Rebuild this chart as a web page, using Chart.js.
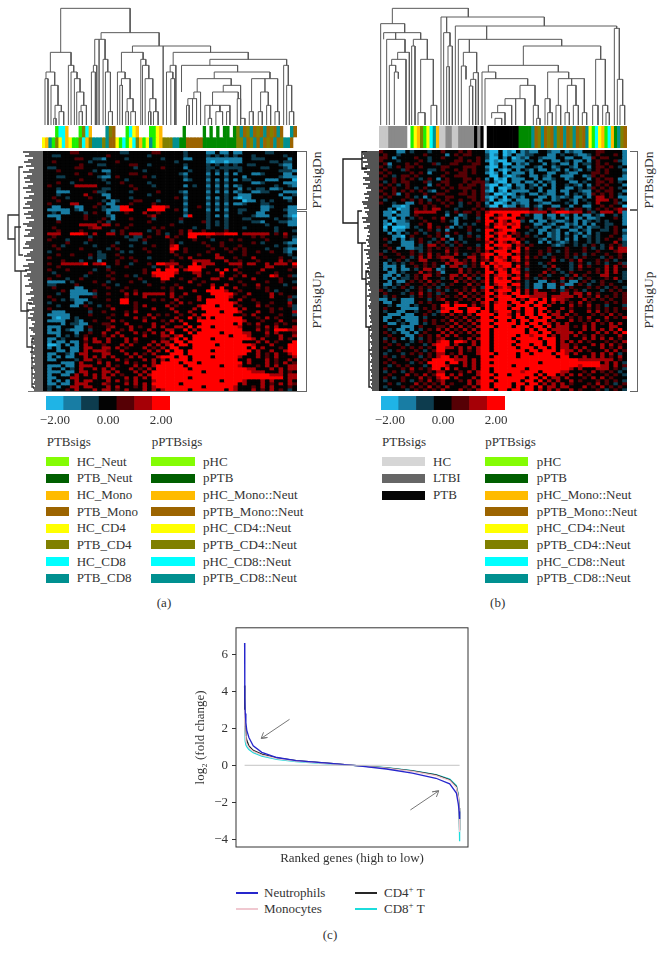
<!DOCTYPE html>
<html>
<head>
<meta charset="utf-8">
<title>PTB signatures</title>
<script src="https://cdn.jsdelivr.net/npm/chart.js@4/dist/chart.umd.min.js"></script>
<style>
	html, body { margin: 0; padding: 0; background: #fff; }
	#page { position: relative; width: 664px; height: 961px; overflow: hidden; font-family: "Liberation Serif", serif; font-size: 13px; color: #333; }
	#page canvas { position: absolute; }
	.t { position: absolute; white-space: nowrap; transform: translateY(-50%); }
	.c { transform: translate(-50%, -50%); }
	.r { transform: translate(-50%, -50%) rotate(-90deg); font-size: 13.5px; }
	.b { position: absolute; border: 1px solid #666; border-left: 0; }
	.s { position: absolute; height: 9px; }
	sup { font-size: 9px; line-height: 0; }
</style>
</head>
<body>
<div id="page"></div>
<script>
// heatmap levels: c b a . 1 2 3 = -2 ... +2
const colorScale = ["#1fb4e6", "#187da4", "#0d3c4e", "#030303", "#560005", "#a60006", "#ff0000"];
const levelCodes = "cba.123";
const scaleTicks = ["\u22122.00", "", "", "0.00", "", "", "2.00"];

const heatA = [
	"......11...... ...aa.....11.. ...a....bb.bb. bb.....aa.....",
	"..aa.......... 1........a.... ...a....a.a.a. a...a......a..",
	".......11..aab ....a.......a. ...bb...bbbbbb bb..aaa.....b.",
	"..1.......a... ..1........... .a......bcbbcb bb......aa.aa.",
	"........1...aa .....11..a.... ...a....a.a.a. a..aa.....abb.",
	".aa....11..... ......a.....1. ...b....aa.aaa aa....aa...ab.",
	"...1.......a.b b.......a..... ....a...a.a.a. .a........aaab",
	".......1..1... a....11....... ..ab....b.b.b. b...bba....bb.",
	"...aa.......ab b.1.....1.a... ...a....a...a. ..b.......abbb",
	"........1....a ....a......... ...ba...b.b.b. b.aa...bbb...c",
	"...1..a....... a..1.....a.... ........a.a.a. ....bba....bbb",
	".1.....22222.. .....1....a... ...b.a..b.b.b. ba.......a..ab",
	"...a.........a a.....1....... ........a.a.a. .b.a.aa.bba...",
	"...bbb.....1aa .....a.....1.. ..ab....b.b.b. ba..bbaa...bbb",
	"...a.....2...b b........a.... ...a....a...a. .bbb......b..a",
	"..1..a....1... b....a........ .1.b....b.b.a. bcbb.......bb.",
	"...1.........a .ba...11...a.. ...a....a.a.a. ..cbb.a.a...a.",
	".1....22....1. bb...1....1... ...b....b.b.b. bba...aa......",
	"..bb...bb..1.a .bb33.....3332 ...a..1.a.a.a. ......bba...bb",
	".bbbbb.ab....a bbb333...3333. .1.b....b.b.b. .aa...bb...abb",
	"..a.bb...a.1.. b...1...2..1.. ...a....a...a. .a...bb.....bb",
	".bbb.....1.... ab.......12... ...b3...a.b.b. ....abbb...abc",
	"...b.....1...1 .b...1....a... ..1.....a...a. ..aa.....a..ab",
	"...1........1. a........1.... ..a....1a.a.a. ....aab...aabb",
	"........2222.2 2.1..1........ 1.......a.a.a. .......a....bb",
	"..1.......122. ....1.....1.1. .....a..a...a. ..a......a....",
	"...1....1..... .a.1.....a.1.. ..1.2..1....1. .........a...a",
	".222..3332.2.. 22.1.222...1.a ..1.3333332233 3.222222.1.2..",
	"..1.......a... ....a.aa.1...2 .1..33..1..... ....1.1....1.a",
	".1...a....1... .....aa.1..... 1....1...a...1 .1.....1.....b",
	".....1...a.... ..a.....a..... 1.a....1...1.. ....1.a....abb",
	"..1.a......a.. .1...a....1... 23......1..1.. .1.......a..a.",
	"...1....1..... a.1.....1..... 33.1.....1..1. 1.1....a...abb",
	".a..........a. ...a.a...1.... 2..1....1....1 ..1..1..1..ab.",
	"...1..1...1.aa ..1........... .1....1...2... ..1.........a.",
	".1........a.aa ...1.1...a.... ..1.2.....22.. 1...2.....1..a",
	"....1...a...b. ..1...1....... 1....2222...2. .1...1....2.1.",
	".1..222223.223 ..1..a...1.332 22...3.222...2 22.22..2.222.3",
	"...1.......... a...1.....a..1 3.1.3332...... .1.....22....1",
	".1...1.....a.. 1.......1..3.3 33.2333...2.3. 2.....2.....1.",
	"..a.......1... .1......1.3333 32...22.1..3.. .1...1...1....",
	"...1.....a.... 1...1.a...2333 3.....2....2.. 1.2.....32..1a",
	".1...a..1..... .1.....1....33 ..1..1...22..2 ....2.....1...",
	".bbbb.a....1.. a....1..a...1. ....2..1...... .1.....1..1..a",
	".aa....1.....1 ..a......1.... .1....1..2..2. ..1..2.....a..",
	"..1....bb..... 1...1.......1. 1.2......3.3.. 2....1.1.....1",
	"....1.bbbb.1.. ...1..1....... 1....2..33332. .1.....1.a....",
	"...a..bbbbba.. 1...2.2.22222. 2..2.....33333 1..2....2.1...",
	".1....bb...1.. ....1...2..... 2.1...2...3332 ..1.....2...1a",
	"..1.a.abbb.... 1..33.....1.1. .2....2.33333. .2..1.......a.",
	".a.....bb.a... ...33.1....... 1.2.1...333333 2....1..1...2.",
	"...a..bb.1..a. 1.....1.2....2 .1....2333.333 .1...2.1....1a",
	".1........1... .2....1...2... 2....2.3333333 3.2.....1.1..a",
	"..bbb.....a..1 ....1.2....... .2..2...333.33 32...2..1....2",
	".bbbbb....1... .1..2....2.1.1 ..1..2.3333333 ..1.2.....1..a",
	"..bcbb.a...... 1.....2.1.2... .2..3.2.3.3333 33...1.2.1....",
	".bbbb..ab..1.. .2.1....2...1. 2.2...33333333 332...1...2..1",
	"....b.aabb...1 1...2.....2..1 ...3...3333333 .3.1.2...1.1..",
	".bbb...bb.1... 12...2.1..2.2. .22.3.333.3333 32...1.2.2...2",
	".b.b.abbb.a... 2..1.2...2...2 2..3.2.3333333 33...2.1.33322",
	".bbb...b..1..2 ..2...2.1.2.2. 3...3.33333.33 3322...2.2...1",
	"...b.a.a.1...1 .2.2....2...22 .23..33333333. 3332...1..2..2",
	".bb.a....2.2.. 2...2.2.....1. 23.3.3333.3333 33332.2...2.1.",
	".b.bb.bb.1.22. 2...2.1...2.22 .33.3333333333 33...2.2.1...3",
	".ccb.b.b.2...1 ...2.2...2.2.2 3.33.33333.333 33332...2...33",
	".b.b..bb.22..2 2.2.1...2.1.2. 33...333333333 333.3.2...1.33",
	"...bb.bb.2.222 1..2.....2.2.3 .33.33333.3333 3333.2..2..233",
	".bb..ab.22...2 2...2.2.1.2... 333.3333333333 333..2.1.2..23",
	".b.b.bb..2.2.2 .2...2.2...233 3.33.3333.3333 32...2.1.2...2",
	".bb....a.22.1. ..2.1...2.2.2. 3333.333333333 3..2...2.1..2.",
	"....bbb.2...2. 2...2.1...2.33 33.333.3333333 33.2...2.1.2.1",
	".bbb.bb.222... 2.1...2.2.2333 333.3333333.33 32...1.2.2..22",
	".b..b.a.2..2.2 .2...2.1.2.333 3333.333333333 33322...2.2.22",
	".bbb.bb.22...2 2.2...2.2.3333 3333333.333333 3333222...2.1.",
	".b..bb.2.2.2.2 .2.1...2.23333 33333333333333 33333333222.22",
	".bb...22...2.2 2...2.2.2.3333 3333.333333333 33333333333.22",
	".b.b.b.2.22... 2.2.1.2...2333 33333333333.33 332...2.2...2.",
	".bb.bb.222...2 1...2.2.2.3333 33.33333333333 3.2...2.1.2.21",
	".a.b..22.22... 2.2...1.2.2333 3333333.333333 2...1.2.2...1.",
	".a...1.2...2.2 2.1.2...2.2.23 3333.3333333.3 2...2.1.2.1.a."
];

const heatB = [
	"1...bb.a...a.. 1...1.1...bcc. cbc.babb..abb. babb...11....b",
	".1..a.....1... .b.1.11...acb. cb.bbaa...bb.a ..abba.1...1.b",
	"11.b....1..a.. 1...1...1.acc. b.cbab..abbb.. bb..bb1.11...b",
	"1...a....1.a.. ...11.1.1.bcbc c.bbb.a.b..bb. a.bb.b.1...1ab",
	".1b...1.1...1a ..11...11..cb. cc.bab...b.a.b b.b.aa.1.1...b",
	"1.a.1.11.1.... 11...111..bcc. b.bbb..ab..ba. .ab..b.11.1.a.",
	".1...a1....aa. 1..1.1.1..ac.b cb.b.ab.bb.ab. b.ab.a.1.1...b",
	"1.1....1.1.b.. .1..11.1..bcb. c.bbb.b...bb.. abb...11.1...a",
	".1.a.11.1..... 1..111.....cc. bcba..bb.ab..b bb..ba1.1....b",
	"1..1.1.1.a.1.b .1...11.1.b.cb c.bbb..b.bba.. ba...b.1.11.bb",
	".a.1.11...1a.. 11...1.111a.bc c.bb.bb.b.ab.. .bb.a..11.1.a.",
	"1.1.a.1....b.1 .1..1.11.1bcc. bc.bb.ab.b.b.. a.ab.b.1.1...b",
	".1.1..1.a.1... 1.1.111..1ac.c cb.ab.a.b..b.. bb.a.a1.1.1.a.",
	"1..1.1.1.1.ab. .1...1.1.1bc.b c.bbbb..b.bb.b b..abb.1.11..b",
	".1.1b.1...1..1 1...11.1.1a.cc bcb.a.bb.abb.. b.a.ab1.1.1.a.",
	"1.1...1.a.b.1. .11...11.1bcb. c.bab...bb.bab a.bb.b.22.1.bb",
	".a...1.1.1.a.1 .1..1..1.1ac.b cb.bbb.bb..ba. .ab.a..222.1.b",
	"1..a..bb.1.1.. 1.1.a.1.1.b.cc b.babb..abb... a.b..a.2...1a.",
	"...bbcb...1.1. .1..a...1.acc. cbb.ab.ab..bb. .b..bb..1.1..c",
	"..b.cbb.1.1.22 ...a...1.1.111 111111.1a.11.1 a.11.a.1.1.121",
	".bbc.bb.22222. .a.1.11.1.2333 3333332222.233 3222.1a.222.2b",
	".bb.bbb.1..... .b..ba..1.33.2 3.33.a.bb.bb.b a.b.bb.ab..a.b",
	"..bc.b.a.1..1. 2..b.a..a.3.23 333.1..bb.ab.. b.bb.bba...1.b",
	".b.cbba...1... 1.ab....1.33.3 2.33a.b.bb.abb a.b.ba.a.a...b",
	".bc.bbb..1.2.. ...b.a.a..3.23 2323...bb.ab.. bab.b.b..aa..b",
	".c.cccb.a..2.1 .1b.a.1...2.33 3.33.1.a.bb.ab b.ab.baa.a.1..",
	".b.cbb...a.1.a .b....1.a.33.2 333...a.bb.ab. .bb.ab..aa.1.b",
	"..b.b.a.1.a..1 .1.1..a...3.23 3.21.a..b.bab. b.ab.b.a...1.a",
	"...bbc.1...1.1 .b..a.1.a.33.3 23.1.1.a..bab. a.b.ba.a..1..b",
	".1.b.b.a.1..a. 2.b.a...1.3.23 333.1...ab.ab. b.b..a.a.1..1b",
	"..a..bbb.1.a.1 .a.1.a....23.3 2.23.a..b.b.ab a.a..a.a...2.a",
	".1...bbb.a.22. 1.a.1...a.3.33 33.21.1....aba ..a.a.1.a.1.1a",
	"..1.b.bbaa.1.1 .1.1..1.1.33.2 32.3.2....1... 1...1.a.a.2.22",
	".a.1...1.a.1.. .2.1....1.2.33 3.33.1..1.1.a. 1...1..1...122",
	"1...1..1.1.2.1 .1.2.a.1.233.3 33.2.1..1.a... 1.1.a.1..1..1.",
	".1...1.a.2.2.1 222...22.13.32 3.33.2.1.a.1.. 1.a.1...a.1.1.",
	"..a.1.a..22... 1.22.1.2.12.33 2.23.1.....2.a .1.2...1.1.a..",
	".b.a.a.1..1.1. .2.221.1.3.323 33.1.2..a.1... .a.1.a.1.a..1a",
	".bbb.b..1.1.1. b.22.a.1.23.32 33.3.1...a.2.. .a.2.1...2.2.1",
	".b.b.bb.a.22.b a...2.1...3.23 2.32.a....1.a. .a.1...1.2.2..",
	"..bb.a...2.1.1 b...2.1.1.33.3 3.33.1...2.1.a .1...1.1.2.2.a",
	".bb.b.a.1.22.1 ..22.2.1.13.23 32.2.2..1.a... a.2.1...22...a",
	".b.b.aa.1.2... a.2.1.2.a.3.32 3.33.1.a.1...2 .1.a.1...1.2.a",
	"..b.bb.1.1.2.1 ...2.1.1.13.33 33.1.a..bb.1.a .bb.1.a.1...a.",
	".bb.a.1...1.1. a.1...2.1.3.23 3.33.a.bb.bb.1 bb.1.a..1.1...",
	".a.a.1.a.1.1.a .1...1.1.a33.2 32.2.a.bb.bb.b .1...1.1.a.1.a",
	"1.a...a..1.a.1 .a.1.1.2.13.23 33.3.2.2...1.a 1.1.a...a.1.1.",
	".1...a.1.2.1.a 1...2.1.1.33.3 2.33.2.222...2 2.22.2.1...1.1",
	".a.1...a.1.1.1 .1.1.2.1.13.23 33.3332222.222 22.2.1.2.1.1.1",
	"bb.a.bbb...a.1 2...1.1.2.33.3 333.2.33.3.322 1...2.1.1.1..1",
	".bb..bbb.1.1.. .2.2...1.23.23 3.33.33.33.2.2 .1.2.1...1.1.1",
	"..a.bbb.a...1. 33.333.2.13.33 32.333.33.2... .2.1.2.1.a...a",
	".1...bbbb.1.1. 2333..333.3.33 3.33.33.33...2 .1...1.1.1.1.1",
	".a..bb..a..1.a 33.33.33.33.23 33.2.33.3.2.2. .2...2.2.1.1..",
	"..bbb.bb..1.a. 1.2.1.2.3333.3 32.3.33.33.22. 2.1...1.1.2.1.",
	".bb..bbbb.a... .1.1.2.1.33.33 33.33.33.33.22 .1.1.2...2.1.2",
	".b..a.bbb.1.1. 1.2.1.2.2333.3 3.3.33.333.2.. .2.1.1.2.1....",
	"..bb.a.bb.a.1. .1.2.1.2.33.33 333.3.33.32.2. 2...1.2.1.2.2.",
	".1...bbb.1...1 1.2.2.1.2333.3 33.333.33.3.22 2.1.2.2...22..",
	"..a.bb.b.a.1.2 .2.1.2.2.33.33 33333.3.33.222 2...2.2.2.2.3.",
	".1.a.bb.b.1... 2.2.1.2.233.33 33333.33.33.22 22.2...2.2.2.3",
	"..1...bb.1.1.2 .2.2...1.33.33 333.332333.2.2 2.2.1.2.1...2.",
	".a.1.b.b.a.1.1 2...1.2.233.33 33.33333.333.2 2...2.2.2.2.1.",
	".1.a...a.1.1.2 33.332.2.33.33 333.33333.33.2 .2.2.1...1.1.2",
	"..1.1.a...a.23 33.2...2.33.33 33.333.33.33.2 2.1...2.2.2.1.",
	".1...1.1.1.1.3 322.2.2.233.33 333.333.33.3.2 2.2.2...2.1.2.",
	"..a.1...1.a.13 3...2.1.233.33 33333.33.333.3 22.2.1...2.2.1",
	".a...a.1.1.1.2 2.1.2...2333.3 333.33.3333.33 2.2...2.2.2.a.",
	".1.a.1...a.1.2 33.2.2...33.33 333.33333333.3 3...2.2.2.1.2.",
	"..1...1.1.1.33 333222.2.33333 33333333333333 33322222222.1.",
	".1.1...a.1.333 3.33.2.2.33.33 33333333.33333 33333333.2.2.a",
	"..a.1.1...a.33 32...2.2.33333 33.33333333333 3332333322.2.1",
	".1...1.2.1.133 .3.2...2.33.33 33333.33333333 32.2...222.1.a",
	".a.1.a.1...1.2 2...1.2.233.33 33332333.33332 2...1.2.1.1.a.",
	"..1...2.1.2.13 3.2.2...2333.3 3.33333.3.33.2 .2.2.1...1.1.a",
	".1.a.1...2.1.2 33.2...2.33.33 33333.33.3.22. 2...1.2.2.1...",
	".a...1.a.1.2.1 2...1.2.2333.3 3333.33.3.2.2. .2.1...1.1.1.a",
	"..1.a...2.1.1. 2.1...2.233.33 33.33.33.2.2.2 .1...1.2.1.a.1",
	".a...1.1.1.2.1 .2...1.2.33.33 33.3.33.3.22.2 2...2.1.2.1.1.",
	"..a...a.1.1.1. 2...2.1.2333.3 3.33.33.2.2.2. .2.1...1.a.1.a"
];

// column annotation strips, one letter per sample
const stripColors = { w: "#ffffff", l: "#1cf000", g: "#008a00", o: "#ffb800", b: "#9c6400", y: "#ffff00", k: "#808000", c: "#00ffff", t: "#009090", h: "#c8c8c8", d: "#8a8a8a", x: "#000000" };
const stripA = [
	"wwwwlccowwwlkcowwwwtkbwwwlcyowwwllyowwwwwwgwwwwwgwgwgwggwgktbktbkbtbkbtbwwtb",
	"yotlkycoyllkcoktttktbbylclyckolytlyokkkttggbbbbbggggggggggkktbktbtbkbtbkttb"
];
const stripB = [
	"hhhddddddwlyoklyctohhddhhdddddxdxwxxxxxxxxxxggggtbktbkbtkbtbktbkbtylcyolcogtkb"
];

// column dendrograms: [left x, right x, height, left child height, right child height]
const dendroA = [
	[183,391,350,218,277],[152,214,218,159,179],[139,165,159,139,119],[136,145,139,0,0],
	[154,175,119,0,59],[166,185,59,20,40],[162,169,20,0,0],[178,192,40,0,0],
	[206,222,179,0,159],[214,232,159,0,139],[224,241,139,0,99],[231,252,99,0,59],
	[244,260,59,40,0],[238,248,40,0,0],[304,478,277,257,237],[285,316,257,179,197],
	[298,298,257,0,0],[281,291,179,159,0],[275,287,159,0,0],[310,324,197,0,159],
	[317,332,159,0,40],[326,338,40,0,0],[398,632,237,218,218],[490,490,237,0,0],
	[365,430,218,159,197],[353,376,159,0,139],[365,391,139,119,79],[360,368,119,0,0],
	[382,400,79,40,40],[378,386,40,0,0],[393,407,40,0,0],[423,438,197,0,179],
	[428,447,179,0,139],[436,459,139,0,79],[450,468,79,40,40],[446,453,40,0,0],
	[461,475,40,0,0],[520,745,218,179,197],[511,528,179,159,0],[500,519,159,0,139],
	[513,524,139,0,0],[630,860,197,179,179],[545,713,179,99,159],[643,810,159,139,139],
	[592,694,139,99,119],[582,602,99,79,0],[564,590,79,59,0],[560,568,59,0,0],
	[578,578,79,0,0],[670,722,119,99,0],[638,715,99,59,79],[615,660,59,0,40],
	[630,630,59,20,20],[625,635,20,0,0],[648,668,40,0,0],[660,690,59,40,40],
	[680,690,40,0,0],[712,722,79,0,20],[722,735,20,0,0],[755,833,139,40,40],
	[795,795,139,99,99],[782,805,99,40,59],[775,787,40,0,0],[800,812,59,0,0],
	[748,760,40,0,0],[825,838,40,0,0],[851,865,179,0,119],[860,875,119,0,40],
	[868,881,40,0,0]
];
const dendroB = [
	[187,415,350,304,324],[152,224,304,0,277],[161,272,277,257,257],[197,197,277,257,257],
	[170,225,257,0,218],[203,238,218,197,0],[185,228,197,179,0],[178,197,179,0,159],
	[193,205,159,0,139],[250,292,257,237,197],[245,255,237,0,0],[272,310,197,37,59],
	[264,285,37,0,0],[303,320,59,0,0],[333,643,324,0,297],[350,350,324,277,277],
	[341,360,277,0,237],[354,367,237,175,0],[350,358,175,0,0],[376,860,297,0,290],
	[470,470,297,257,257],[385,695,257,0,237],[418,418,257,218,218],[400,440,218,177,157],
	[394,408,177,0,137],[430,445,157,137,0],[422,437,137,117,0],[418,428,117,0,0],
	[580,812,237,179,197],[475,685,179,159,159],[456,497,159,0,139],[465,593,139,0,119],
	[570,615,119,79,59],[525,585,79,59,0],[503,545,59,37,0],[485,525,37,20,0],
	[495,515,20,0,0],[557,557,79,0,0],[610,625,59,0,20],[620,630,20,0,0],
	[653,716,159,79,139],[645,660,79,0,37],[653,667,37,0,0],[685,763,139,59,37],
	[678,692,59,0,0],[725,725,139,119,119],[712,738,119,37,59],[705,718,37,0,0],
	[730,745,59,0,0],[757,770,37,0,0],[797,826,197,59,59],[788,804,59,0,0],
	[818,833,59,0,37],[828,838,37,0,0],[853,868,290,0,137],[862,878,137,0,59],
	[870,884,59,0,0]
];

// row dendrograms: [top row, bottom row, height, child height, child height]
const rowTrunkA = [[16,22,35,24,28],[4,26,24,20,20],[19,30,28,22,22],[30,40,22,16,14],[38,49,16,11,10],[47,59,11,9,9]];
const rowTrunkB = [[2,18,36,17,21],[0,4.5,17,12,12],[15,23,21,17,17],[23,32,17,13,13],[30,44,13,10,10],[44,59,10,8,8]];
const rowLeavesA = [20,14,18,10,15,19,12,17,9,14,20,11,16,19,13,18,10,15,20,12,17,9,14,19,11,16,18,13,20,10,15,19,12,17,9,14,20,16,11,18,13,15,19,9,12,17,18,14,20,10,13,16,19,12,17,9,15,20,14,18,12,16,19,13,15,11,14,18,12,10,13,17,9,12,15,10,14,8,11,16,9,13,10,15,12,8,11,9,14,12,10,8,13,11,9,12,10,8,11,9,13,10,8,12,9,11,8,10,12,9,8,11,9,10,8,9,11,8,10,9];
const rowLeavesB = [17,16,15,17,12,16,11,14,17,9,15,12,10,16,14,9,16,11,13,8,12,15,10,14,11,17,16,12,15,10,14,12,11,17,13,16,9,12,15,10,11,9,12,10,13,11,10,12,9,15,11,13,10,12,9,11,14,10,12,9,13,11,10,12,9,11,13,10,9,11,8,10,12,9,10,8,9,11,10,8,9,8,10,9,8,9,7,9,8,10,7,8,9,8,7,9,8,7,8,10,7,9,8,7,8,9,7,8,7,9,8,7,8,7,9,7,8,7,8,7];

const legendLeftA = ["HC_Neut", "PTB_Neut", "HC_Mono", "PTB_Mono", "HC_CD4", "PTB_CD4", "HC_CD8", "PTB_CD8"];
const legendLeftB = ["HC", "LTBI", "PTB"];
const legendRight = ["pHC", "pPTB", "pHC_Mono::Neut", "pPTB_Mono::Neut", "pHC_CD4::Neut", "pPTB_CD4::Neut", "pHC_CD8::Neut", "pPTB_CD8::Neut"];
const legendColors = ["#84fc04", "#005f00", "#ffbb00", "#9c6400", "#ffff00", "#808000", "#00ffff", "#009090"];
const legendGrays = ["#d6d6d6", "#666666", "#050505"];

// ranked fold change curves
const rankPct = [0, 0.1, 0.3, 0.6, 1, 2, 4, 8, 15, 24, 40, 52, 66, 78, 89, 95.4, 98.5, 99.4, 99.8, 100];
const neutrophils = [6.6, 3.6, 2.8, 2.3, 1.9, 1.5, 1.05, 0.7, 0.42, 0.25, 0.1, -0.02, -0.2, -0.42, -0.7, -1.0, -1.5, -2.1, -2.5, -2.9];
const monocytes = [3.0, 2.1, 1.6, 1.3, 1.15, 0.95, 0.75, 0.55, 0.36, 0.22, 0.08, -0.02, -0.15, -0.33, -0.56, -0.82, -1.2, -1.7, -2.4, -3.6];
const cd4 = [4.3, 2.9, 2.0, 1.6, 1.35, 1.05, 0.8, 0.6, 0.4, 0.25, 0.1, -0.02, -0.14, -0.3, -0.52, -0.78, -1.15, -1.65, -2.3, -3.5];
const cd8 = [2.6, 1.7, 1.3, 1.1, 1.0, 0.85, 0.68, 0.5, 0.32, 0.2, 0.07, -0.02, -0.13, -0.29, -0.5, -0.75, -1.1, -1.6, -2.4, -4.1];
const arrowUpper = [[20.9, 2.48], [7.7, 1.45], [10.6, 1.5], [7.7, 1.45], [8.8, 1.78]];
const arrowLower = [[77.1, -2.41], [90.3, -1.38], [87.3, -1.43], [90.3, -1.38], [89.2, -1.71]];

const page = document.getElementById("page");
Chart.defaults.font.family = '"Liberation Serif", serif';
Chart.defaults.color = "#333";
Chart.defaults.animation = false;
Chart.defaults.responsive = false;
Chart.defaults.devicePixelRatio = 1;
Chart.defaults.plugins.legend.display = false;
Chart.defaults.plugins.tooltip.enabled = false;

const addCanvas = (left, top, width, height) => {
	const canvas = document.createElement("canvas");
	canvas.width = width;
	canvas.height = height;
	canvas.style.left = left + "px";
	canvas.style.top = top + "px";
	page.appendChild(canvas);
	return canvas.getContext("2d");
};

const addText = (html, x, y, cls) => {
	const el = document.createElement("div");
	el.className = "t" + (cls ? " " + cls : "");
	el.innerHTML = html;
	el.style.left = x + "px";
	el.style.top = y + "px";
	page.appendChild(el);
};

const hidden = { display: false };

// one floating bar per cell, rows as datasets
const drawCells = (ctx, rows, toColor) => {
	const cleaned = rows.map((row) => row.replace(/ /g, ""));
	const labels = Array.from({ length: cleaned[0].length }, (_, i) => i);
	new Chart(ctx, {
		type: "bar",
		data: {
			labels,
			datasets: cleaned.map((row, r) => ({
				data: labels.map(() => [r, r + 1]),
				backgroundColor: labels.map((i) => toColor(row[i])),
				grouped: false,
				barPercentage: 1,
				categoryPercentage: 1,
			})),
		},
		options: {
			layout: { padding: 0 },
			scales: {
				x: hidden,
				y: { display: false, min: 0, max: cleaned.length, reverse: true },
			},
		},
	});
};

const heatColor = (ch) => colorScale[levelCodes.indexOf(ch) < 0 ? 3 : levelCodes.indexOf(ch)];
const stripColor = (ch) => stripColors[ch] || "#ffffff";

const drawLines = (ctx, points, xScale, yScale, color, width) => {
	new Chart(ctx, {
		type: "scatter",
		data: {
			datasets: [{ data: points, showLine: true, pointRadius: 0, borderColor: color, borderWidth: width, spanGaps: false }],
		},
		options: {
			layout: { padding: 0 },
			scales: {
				x: { display: false, ...xScale },
				y: { display: false, ...yScale },
			},
		},
	});
};

const gap = { x: NaN, y: NaN };
const mergePoints = (merges) =>
	merges.flatMap(([a, b, h, ha, hb]) => [{ x: a, y: ha }, { x: a, y: h }, { x: b, y: h }, { x: b, y: hb }, gap]);
const rowPoints = (merges, leaves) =>
	merges
		.flatMap(([a, b, h, ha, hb]) => [{ x: ha, y: a }, { x: h, y: a }, { x: h, y: b }, { x: hb, y: b }, gap])
		.concat(leaves.flatMap((h, i) => [{ x: h, y: ((i + 0.5) * 60) / leaves.length }, { x: 0, y: ((i + 0.5) * 60) / leaves.length }, gap]));

const drawColorBar = (left) => {
	new Chart(addCanvas(left - 12, 396, 124 + 24, 34), {
		type: "bar",
		data: {
			labels: scaleTicks,
			datasets: [{ data: colorScale.map(() => 1), backgroundColor: colorScale, barPercentage: 1, categoryPercentage: 1 }],
		},
		options: {
			layout: { padding: { left: 12, right: 12 } },
			scales: {
				x: {
					grid: { display: false, drawTicks: false },
					border: { display: false },
					ticks: { font: { size: 13 }, color: "#333", autoSkip: false, maxRotation: 0, padding: 3 },
					afterFit: (s) => { s.height = 20; },
				},
				y: { display: false, min: 0, max: 1 },
			},
		},
	});
};

const drawLegend = (names, colors, swatchX, swatchW, textX) => {
	names.forEach((name, i) => {
		const y = 461.7 + i * 16.65;
		const s = document.createElement("div");
		s.className = "s";
		s.style.cssText = `left:${swatchX}px;top:${y - 4.5}px;width:${swatchW}px;background:${colors[i]}`;
		page.appendChild(s);
		addText(name, textX, y);
	});
};

const drawBracket = (left, top, width, height) => {
	const b = document.createElement("div");
	b.className = "b";
	b.style.cssText = `left:${left}px;top:${top}px;width:${width}px;height:${height}px`;
	page.appendChild(b);
};

const drawRule = (left, top, width) => {
	const r = document.createElement("div");
	r.style.cssText = `position:absolute;left:${left}px;top:${top}px;width:${width}px;height:1px;background:#777`;
	page.appendChild(r);
};

// panel a
drawLines(addCanvas(42, 0, 255, 126), mergePoints(dendroA), { min: 127, max: 891 }, { min: -3, max: 375 }, "#5a5a5a", 1);
drawCells(addCanvas(42, 126, 255, 22), stripA, stripColor);
drawCells(addCanvas(43, 151, 254, 240), heatA, heatColor);
drawLines(addCanvas(0, 151, 43, 240), rowPoints(rowTrunkA, rowLeavesA), { min: 0, max: 43, reverse: true }, { min: 0, max: 60, reverse: true }, "#333", 1.3);
drawRule(28, 391, 269);
drawColorBar(46);
drawBracket(297, 151, 9, 57);
drawBracket(297, 211, 9, 179);
addText("PTBsigDn", 317, 180, "r");
addText("PTBsigUp", 317, 300, "r");
addText("PTBsigs", 46.7, 442.3);
addText("pPTBsigs", 151.7, 442.3);
drawLegend(legendLeftA, legendColors, 46, 23, 76.7);
drawLegend(legendRight, legendColors, 151, 44, 203);
addText("(a)", 164, 603, "c");

// panel b
drawLines(addCanvas(379, 0, 248, 126), mergePoints(dendroB), { min: 147, max: 891 }, { min: -3, max: 375 }, "#5a5a5a", 1);
drawCells(addCanvas(379, 126, 248, 22), stripB, stripColor);
drawCells(addCanvas(379, 150, 248, 241), heatB, heatColor);
drawLines(addCanvas(340, 151, 39, 240), rowPoints(rowTrunkB, rowLeavesB), { min: 0, max: 39, reverse: true }, { min: 0, max: 60, reverse: true }, "#1c1c1c", 1.4);
drawColorBar(381);
drawBracket(630, 151, 7, 57);
drawBracket(630, 210, 7, 180);
addText("PTBsigDn", 649, 180, "r");
addText("PTBsigUp", 649, 300, "r");
addText("PTBsigs", 382, 442.3);
addText("pPTBsigs", 485.3, 442.3);
drawLegend(legendLeftB, legendGrays, 381.7, 43, 433);
drawLegend(legendRight, legendColors, 485, 43, 536.7);
addText("(b)", 497.7, 603, "c");

// panel c
const series = (values) => rankPct.map((x, i) => ({ x, y: values[i] }));
const curve = (data, color, width) => ({ data, showLine: true, pointRadius: 0, borderColor: color, borderWidth: width });
const pairs = (list) => list.map(([x, y]) => ({ x, y }));
const frame = {
	id: "frame",
	afterDraw(chart) {
		const { ctx, chartArea: a } = chart;
		ctx.save();
		ctx.strokeStyle = "#333";
		ctx.lineWidth = 1;
		ctx.strokeRect(a.left, a.top, a.right - a.left, a.bottom - a.top);
		ctx.restore();
	},
};
new Chart(addCanvas(185, 616, 290, 256), {
	type: "scatter",
	data: {
		datasets: [
			curve(pairs([[0, 0], [100, 0]]), "#c4c4c4", 1),
			curve(series(neutrophils), "#2626cc", 1.3),
			curve(series(monocytes), "#f0c8d0", 1.3),
			curve(series(cd4), "#262626", 1.3),
			curve(series(cd8), "#1cdcdc", 1.3),
			curve(pairs(arrowUpper), "#777", 1),
			curve(pairs(arrowLower), "#777", 1),
		],
	},
	options: {
		layout: { padding: { top: 5, right: 7, left: 0, bottom: 0 } },
		scales: {
			x: {
				min: -4,
				max: 103.9,
				grid: { display: false },
				border: { display: false },
				ticks: { display: false },
				title: { display: true, text: "Ranked genes (high to low)", font: { size: 13 }, color: "#333", padding: { top: 0, bottom: 6 } },
				afterFit: (s) => { s.height = 25; },
			},
			y: {
				min: -4.41,
				max: 7.42,
				grid: { drawOnChartArea: false, tickLength: 4, color: "#333" },
				border: { display: false },
				ticks: {
					stepSize: 2,
					includeBounds: false,
					font: { size: 13 },
					color: "#333",
					padding: 4,
					callback: (v) => (v < 0 ? "\u2212" + -v : "" + v),
				},
				title: { display: true, text: "log\u2082 (fold change)", font: { size: 13 }, color: "#333", padding: { top: 8, bottom: 0 } },
				afterFit: (s) => { s.width = 51; },
			},
		},
	},
	plugins: [frame],
});
const legendLines = [
	["Neutrophils", "#2626cc", 235.7, 264, 893],
	["Monocytes", "#f0c8d0", 235.7, 264, 909],
	["CD4<sup>+</sup> T", "#262626", 355, 384, 893],
	["CD8<sup>+</sup> T", "#1cdcdc", 355, 384, 909],
];
legendLines.forEach(([name, color, x, tx, y]) => {
	const s = document.createElement("div");
	s.style.cssText = `position:absolute;left:${x}px;top:${y - 1}px;width:22px;height:2px;background:${color}`;
	page.appendChild(s);
	addText(name, tx, y);
});
addText("(c)", 330, 935, "c");
</script>
</body>
</html>
